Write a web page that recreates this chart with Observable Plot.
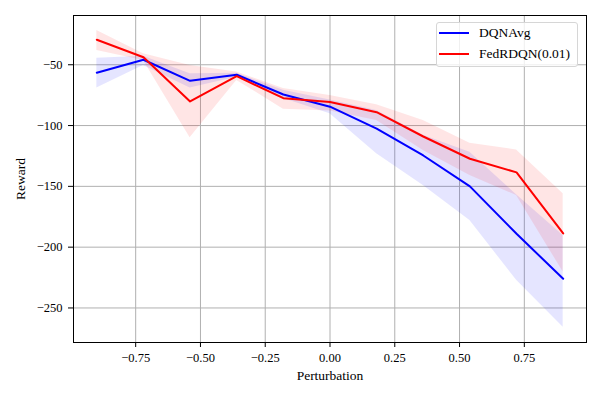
<!DOCTYPE html>
<html>
<head>
<meta charset="utf-8">
<script src="https://cdn.jsdelivr.net/npm/d3@7"></script>
<script src="https://cdn.jsdelivr.net/npm/@observablehq/plot@0.6"></script>
<style>
  body { margin: 0; background: #fff; }
  #wrap { position: relative; width: 600px; height: 400px; font-family: "Liberation Serif", "DejaVu Serif", serif; }
  #wrap svg { font-family: "Liberation Serif", serif !important; font-size: 12.5px !important; color: #000; }
  #wrap svg g[aria-label="x-axis label"], #wrap svg g[aria-label="y-axis label"] { font-size: 13.5px; }
  #legend { position: absolute; left: 436px; top: 22px; width: 142px; height: 45px; border: 1px solid #d6d6d6; border-radius: 3px; background: rgba(255,255,255,0.8); box-sizing: border-box; font-size: 13.5px; }
  .item { position: absolute; left: 2px; display: flex; align-items: center; }
  .swatch { width: 30px; height: 2px; margin-right: 10px; }
</style>
</head>
<body>
<div id="wrap"></div>
<script>
const perturbation = [-0.9, -0.72, -0.54, -0.36, -0.18, 0, 0.18, 0.36, 0.54, 0.72, 0.9];
const dqnavgMean  = [-56.6, -45.9, -63.2, -58.2, -74.5, -84.5, -102.6, -124.6, -150, -189, -226];
const dqnavgLow   = [-69.2, -50.6, -69.2, -60.2, -77.7, -90.3, -123.2, -149.3, -178, -227.3, -265.8];
const dqnavgHigh  = [-44.6, -43.0, -57.4, -56.9, -71.0, -79.0, -87.6, -108.0, -122, -157, -190.4];
const fedMean     = [-29.4, -43.8, -80.2, -59.4, -77.5, -80.7, -89.0, -109.0, -127.3, -138.5, -188.7];
const fedLow      = [-38.2, -46.5, -110.0, -62.9, -86.5, -88.0, -95.8, -120.5, -141.0, -157.5, -220.5];
const fedHigh     = [-21.8, -41.0, -50.6, -56.0, -69.5, -75.2, -82.9, -95.8, -114.5, -120.0, -156.0];
const xTicks = [-0.75, -0.5, -0.25, 0, 0.25, 0.5, 0.75];
const yTicks = [-250, -200, -150, -100, -50];
const seriesNames = ["DQNAvg", "FedRDQN(0.01)"];
const seriesColors = ["#0000ff", "#ff0000"];

const rows = [];
perturbation.forEach((x, i) => {
  rows.push({series: seriesNames[0], x, mean: dqnavgMean[i], lo: dqnavgLow[i], hi: dqnavgHigh[i]});
});
perturbation.forEach((x, i) => {
  rows.push({series: seriesNames[1], x, mean: fedMean[i], lo: fedLow[i], hi: fedHigh[i]});
});
const blue = rows.filter(d => d.series === seriesNames[0]);
const red = rows.filter(d => d.series === seriesNames[1]);

const chart = Plot.plot({
  width: 600,
  height: 400,
  marginLeft: 73,
  marginRight: 14,
  marginTop: 15,
  marginBottom: 58,
  style: "font-family: 'Liberation Serif', serif; font-size: 12.5px; color: #000; background: #fff;",
  x: {domain: [-0.99, 0.99], ticks: xTicks, tickFormat: d3.format(".2f"), label: "Perturbation", labelAnchor: "center", labelArrow: "none", tickSize: 5, tickPadding: 6, labelOffset: 37},
  y: {domain: [-278.4, -9.5], ticks: yTicks, tickFormat: d3.format("d"), label: "Reward", labelAnchor: "center", labelArrow: "none", tickSize: 5, tickPadding: 6, labelOffset: 58},
  marks: [
    Plot.gridX(xTicks, {stroke: "#b0b0b0", strokeOpacity: 1, strokeWidth: 1}),
    Plot.gridY(yTicks, {stroke: "#b0b0b0", strokeOpacity: 1, strokeWidth: 1}),
    Plot.areaY(blue, {x: "x", y1: "lo", y2: "hi", fill: seriesColors[0], fillOpacity: 0.1}),
    Plot.areaY(red, {x: "x", y1: "lo", y2: "hi", fill: seriesColors[1], fillOpacity: 0.1}),
    Plot.lineY(blue, {x: "x", y: "mean", stroke: seriesColors[0], strokeWidth: 2}),
    Plot.lineY(red, {x: "x", y: "mean", stroke: seriesColors[1], strokeWidth: 2}),
    Plot.frame({stroke: "#000", strokeWidth: 1})
  ]
});

const wrap = document.getElementById("wrap");
wrap.appendChild(chart);
const legend = document.createElement("div");
legend.id = "legend";
seriesNames.forEach((name, i) => {
  const item = document.createElement("div");
  item.className = "item";
  item.style.top = (i === 0 ? 2 : 23) + "px";
  const sw = document.createElement("div");
  sw.className = "swatch";
  sw.style.background = seriesColors[i];
  const label = document.createElement("span");
  label.textContent = name;
  item.appendChild(sw);
  item.appendChild(label);
  legend.appendChild(item);
});
wrap.appendChild(legend);
</script>
</body>
</html>
